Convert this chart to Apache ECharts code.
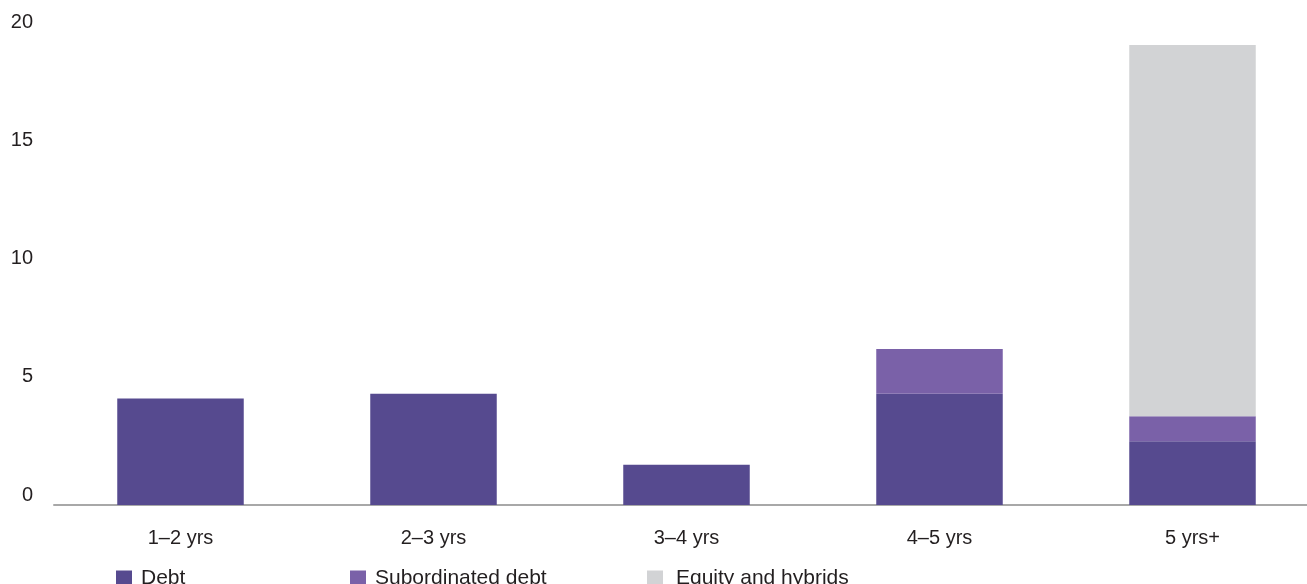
<!DOCTYPE html>
<html>
<head>
<meta charset="utf-8">
<script src="https://cdn.jsdelivr.net/npm/echarts@6/dist/echarts.min.js"></script>
<style>
html,body{margin:0;padding:0;background:#fff;}
#chart{width:1307px;height:584px;}
</style>
</head>
<body>
<div id="chart"></div>
<script>
const categories = ['1\u20132 yrs', '2\u20133 yrs', '3\u20134 yrs', '4\u20135 yrs', '5 yrs+'];
const debt = [4.5, 4.7, 1.7, 4.7, 2.7];
const subordinatedDebt = [0, 0, 0, 1.9, 1.05];
const equityHybrids = [0, 0, 0, 0, 15.7];
const yTicks = [0, 5, 10, 15, 20];

const FONT = '"Liberation Sans", Arial, sans-serif';
const TEXT = '#231f20';
const colors = {Debt: '#564a8f', 'Subordinated debt': '#7a61a8', 'Equity and hybrids': '#d2d3d5'};

const chart = echarts.init(document.getElementById('chart'), null, {renderer: 'canvas'});

function legendFor(name, left, gap) {
  return {
    data: [name],
    left: left,
    top: 568,
    itemWidth: 16,
    itemHeight: 16,
    itemGap: 0,
    icon: 'rect',
    padding: 0,
    textStyle: {fontFamily: FONT, fontSize: 21, color: TEXT, padding: [0, 0, 0, gap]},
    selectedMode: false
  };
}

chart.setOption({
  animation: false,
  backgroundColor: '#fff',
  grid: {left: 54, top: 32, right: -12, bottom: 79, containLabel: false, outerBoundsMode: 'none'},
  legend: [
    legendFor('Debt', 116, 4),
    legendFor('Subordinated debt', 350, 4),
    legendFor('Equity and hybrids', 647, 8)
  ],
  xAxis: {
    type: 'category',
    data: categories,
    axisTick: {show: false},
    axisLine: {lineStyle: {color: '#a8a8a8', width: 2}},
    axisLabel: {fontFamily: FONT, fontSize: 20, color: TEXT, margin: 23}
  },
  yAxis: {
    type: 'value',
    min: yTicks[0],
    max: yTicks[yTicks.length - 1],
    interval: yTicks[1] - yTicks[0],
    splitLine: {show: false},
    axisLine: {show: false},
    axisTick: {show: false},
    axisLabel: {
      fontFamily: FONT, fontSize: 20, color: TEXT, margin: 21,
      align: 'right', verticalAlign: 'bottom'
    }
  },
  series: [
    {name: 'Debt', type: 'bar', stack: 'total', data: debt, barWidth: '50%',
     itemStyle: {color: colors['Debt']}},
    {name: 'Subordinated debt', type: 'bar', stack: 'total', data: subordinatedDebt, barWidth: '50%',
     itemStyle: {color: colors['Subordinated debt']}},
    {name: 'Equity and hybrids', type: 'bar', stack: 'total', data: equityHybrids, barWidth: '50%',
     itemStyle: {color: colors['Equity and hybrids']}}
  ]
});
</script>
</body>
</html>
